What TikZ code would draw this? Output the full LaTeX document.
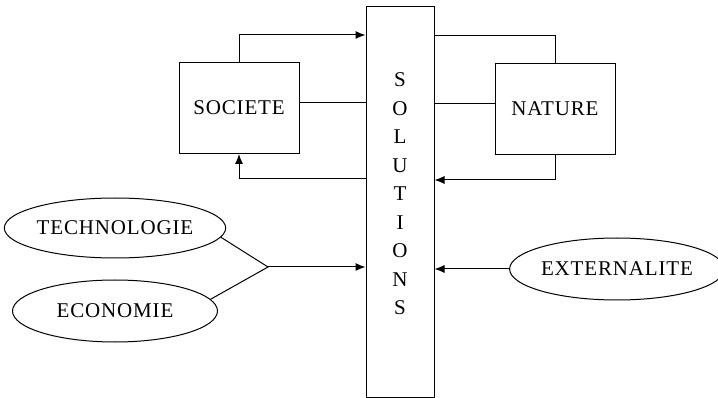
\documentclass[tikz,border=0pt]{standalone}
\usepackage{fontspec}
\setmainfont[LetterSpace=4]{Liberation Serif}
\usetikzlibrary{arrows.meta,shapes.geometric}
\begin{document}
\begin{tikzpicture}[x=1pt, y=-1pt, line width=1pt,
  font=\fontsize{21}{25}\selectfont,
  box/.style={draw, rectangle, minimum width=120pt, minimum height=91pt, inner sep=0pt},
  oval/.style={draw, ellipse, minimum width=205pt, minimum height=60pt, inner sep=0pt},
  arr/.style={-{Latex[length=10pt,width=8pt]}}]
\useasboundingbox (0,0) rectangle (718,398);

% Solutions column
\node[draw, rectangle, minimum width=68pt, minimum height=390pt] (sol) at (400,202) {};
\node[align=center, font=\fontsize{21}{28.5}\selectfont] (soltext) at (400,194) {S\\O\\L\\U\\T\\I\\O\\N\\S};

% Societe and Nature
\node[box] (societe) at (239,108) {SOCIETE};
\node[box] (nature) at (555,109) {NATURE};

% Loops with the solutions
\draw[arr] (societe.north) |- (sol.west |- 0,35);
\draw (societe.east |- 0,103) -- (sol.west |- 0,103);
\draw[arr] (sol.west |- 0,179) -| (societe.south);
\draw (sol.east |- 0,36) -| (nature.north);
\draw (sol.east |- 0,104) -- (nature.west |- 0,104);
\draw[arr] (nature.south) |- (sol.east |- 0,180);

% Inputs
\node[oval] (techno) at (115,228) {TECHNOLOGIE};
\node[oval, minimum height=62pt] (econ) at (115,311) {ECONOMIE};
\node[oval, minimum width=200pt, minimum height=62pt] (extern) at (617,269) {EXTERNALITE};
\coordinate (fork) at (268,267);
\draw (techno.-5) -- (fork) -- (econ.7);
\draw[arr] (fork) -- (sol.west |- fork);
\draw[arr] (extern.west) -- (sol.east |- extern.west);
\end{tikzpicture}
\end{document}
